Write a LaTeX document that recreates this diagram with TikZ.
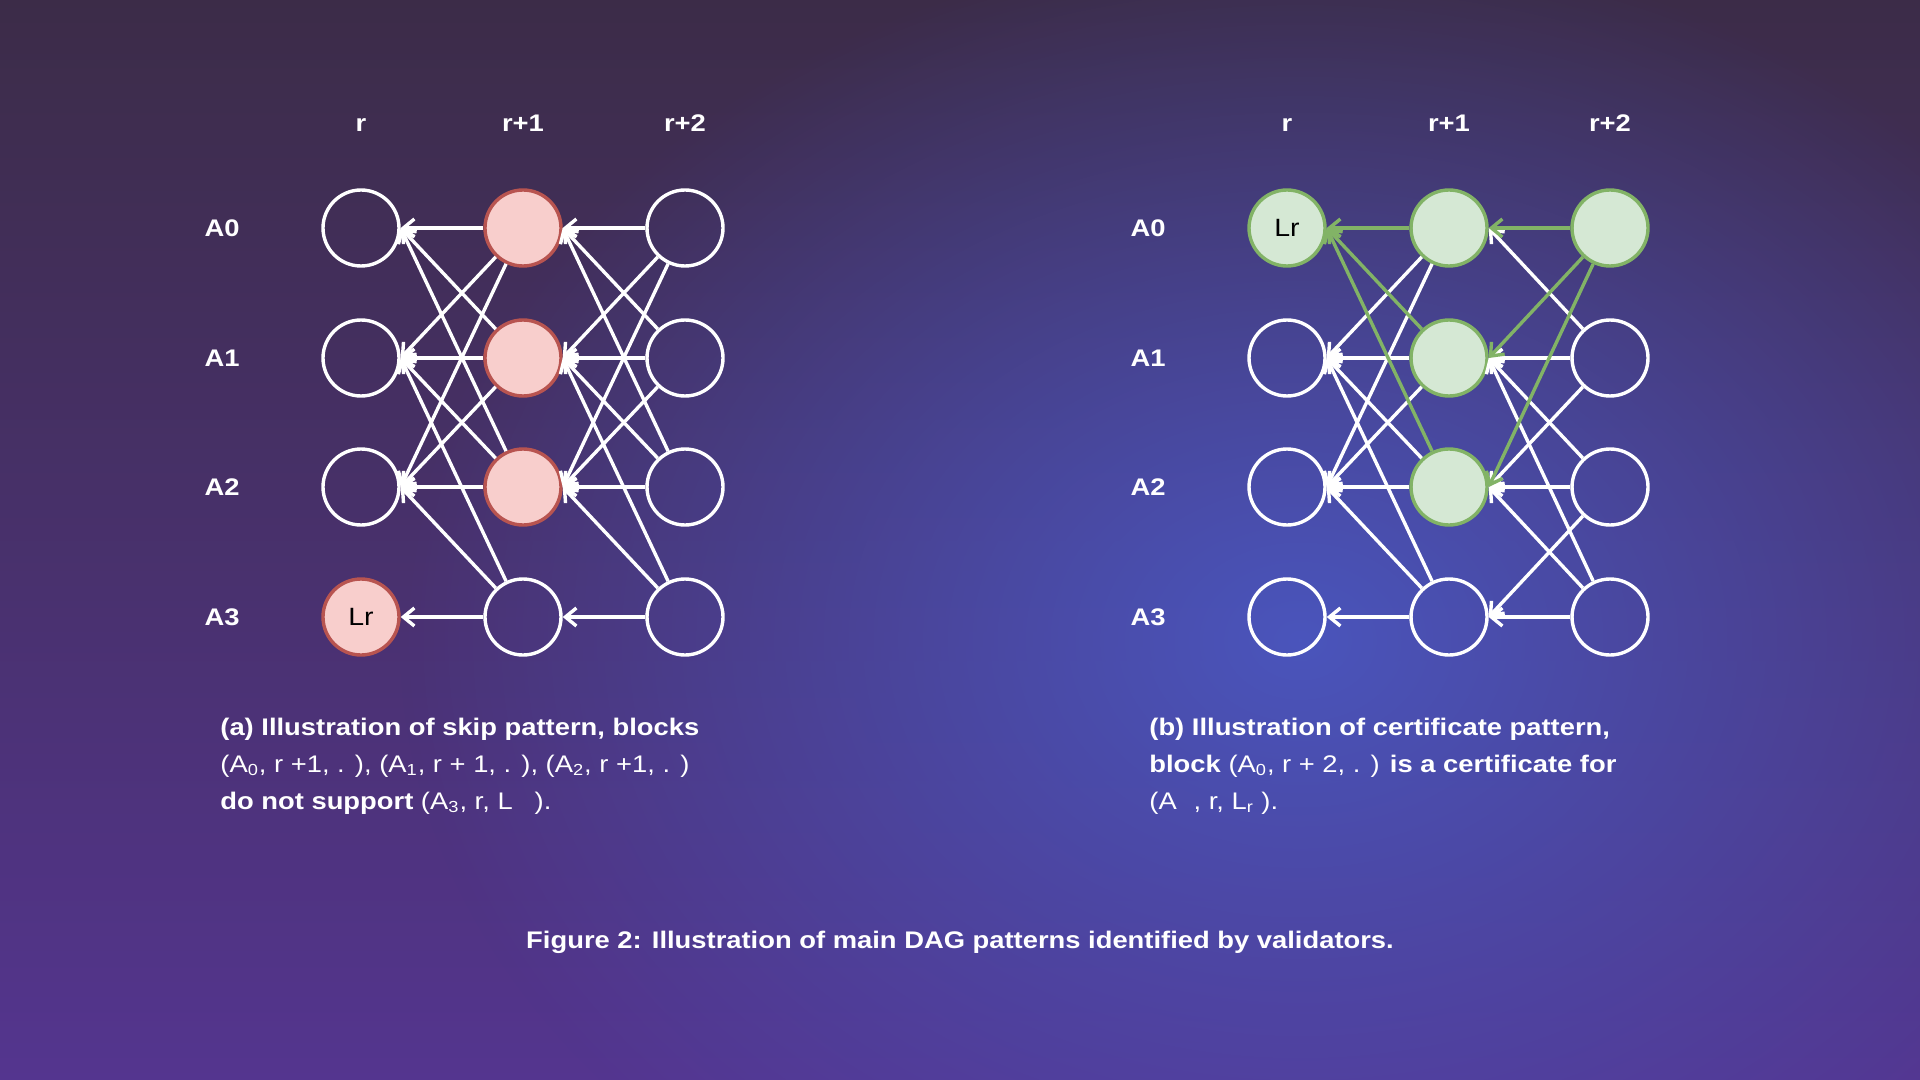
\documentclass[tikz,border=0pt]{standalone}
\usepackage{fontspec}
\setmainfont{Liberation Sans}[FakeStretch=1.14]
\usetikzlibrary{arrows.meta,fadings}
\definecolor{bgtop}{HTML}{3C2C48}
\definecolor{bgbot}{HTML}{54358F}
\definecolor{glow}{HTML}{4A55BC}
\definecolor{pinkfill}{HTML}{F8CECC}
\definecolor{pinkline}{HTML}{B85450}
\definecolor{greenfill}{HTML}{D5E8D4}
\definecolor{greenline}{HTML}{82B366}
\tikzfading[name=glowfade, inner color=transparent!0, outer color=transparent!100]
\tikzset{
  blk/.style={circle, draw=white, line width=1.7pt, minimum size=38pt, inner sep=0pt, font=\fontsize{12.5}{14}\selectfont, text=black},
  skipblk/.style={blk, draw=pinkline, fill=pinkfill},
  certblk/.style={blk, draw=greenline, fill=greenfill},
  conn/.style={draw=white, line width=1.7pt, -{Straight Barb[length=5.5pt,width=9pt]}},
  cconn/.style={conn, draw=greenline},
  lbl/.style={text=white, font=\bfseries\fontsize{12}{14}\selectfont, anchor=base, inner sep=0pt},
  captxt/.style={text=white, font=\fontsize{12}{14}\selectfont, anchor=base west, inner sep=0pt},
}
\begin{document}
\begin{tikzpicture}[x=0.5pt, y=-0.5pt]
\useasboundingbox (0,0) rectangle (1920,1080);
\shade[top color=bgtop, bottom color=bgbot] (0,0) rectangle (1920,1080);
\fill[glow, path fading=glowfade] (1300,640) ellipse [x radius=900, y radius=700];

% ---------- left diagram (skip pattern) ----------
\node[blk] (L00) at (361,228) {};
\node[blk] (L01) at (361,358) {};
\node[blk] (L02) at (361,487) {};
\node[skipblk] (L03) at (361,617) {Lr};
\node[skipblk] (L10) at (523,228) {};
\node[skipblk] (L11) at (523,358) {};
\node[skipblk] (L12) at (523,487) {};
\node[blk] (L13) at (523,617) {};
\node[blk] (L20) at (685,228) {};
\node[blk] (L21) at (685,358) {};
\node[blk] (L22) at (685,487) {};
\node[blk] (L23) at (685,617) {};

\foreach \s in {0,1,2} \foreach \t in {0,1,2} {
  \draw[conn] (L1\s) -- (L0\t.east);
  \draw[conn] (L2\s) -- (L1\t.east);
}
\foreach \t in {1,2,3} {
  \draw[conn] (L13) -- (L0\t.east);
  \draw[conn] (L23) -- (L1\t.east);
}

\node[lbl] (lc0) at (361,132) {r};
\node[lbl] (lc1) at (523,132) {r+1};
\node[lbl] (lc2) at (685,132) {r+2};
\node[lbl] (lr0) at (222,236.5) {A0};
\node[lbl] (lr1) at (222,366.5) {A1};
\node[lbl] (lr2) at (222,495.5) {A2};
\node[lbl] (lr3) at (222,625.5) {A3};

% ---------- right diagram (certificate pattern) ----------
\node[certblk] (R00) at (1287,228) {Lr};
\node[blk] (R01) at (1287,358) {};
\node[blk] (R02) at (1287,487) {};
\node[blk] (R03) at (1287,617) {};
\node[certblk] (R10) at (1449,228) {};
\node[certblk] (R11) at (1449,358) {};
\node[certblk] (R12) at (1449,487) {};
\node[blk] (R13) at (1449,617) {};
\node[certblk] (R20) at (1610,228) {};
\node[blk] (R21) at (1610,358) {};
\node[blk] (R22) at (1610,487) {};
\node[blk] (R23) at (1610,617) {};

\foreach \s in {0,1,2} \foreach \t in {1,2} \draw[conn] (R1\s) -- (R0\t.east);
\foreach \t in {1,2,3} \draw[conn] (R13) -- (R0\t.east);
\foreach \t in {0,1,2} \draw[conn] (R21) -- (R1\t.east);
\foreach \t in {1,2,3} {
  \draw[conn] (R22) -- (R1\t.east);
  \draw[conn] (R23) -- (R1\t.east);
}
\foreach \s in {0,1,2} \draw[cconn] (R1\s) -- (R00.east);
\foreach \t in {0,1,2} \draw[cconn] (R20) -- (R1\t.east);

\node[lbl] (rc0) at (1287,132) {r};
\node[lbl] (rc1) at (1449,132) {r+1};
\node[lbl] (rc2) at (1610,132) {r+2};
\node[lbl] (rr0) at (1148,236.5) {A0};
\node[lbl] (rr1) at (1148,366.5) {A1};
\node[lbl] (rr2) at (1148,495.5) {A2};
\node[lbl] (rr3) at (1148,625.5) {A3};

% ---------- captions ----------
\node[captxt] (ca1) at (220,735) {\bfseries (a) Illustration of skip pattern, blocks};
\node[captxt] (ca2) at (220,772) {(A\textsubscript{0}, r +1, . ), (A\textsubscript{1}, r + 1, . ), (A\textsubscript{2}, r +1, . )};
\node[captxt] (ca3) at (220,809) {\textbf{do not support} (A\textsubscript{3}, r, L\hspace{0.6em} ).};

\node[captxt] (cb1) at (1149,735) {\bfseries (b) Illustration of certificate pattern,};
\node[captxt] (cb2) at (1149,772) {\textbf{block} (A\textsubscript{0}, r + 2, . ) \textbf{is a certificate for}};
\node[captxt] (cb3) at (1149,809) {(A\hspace{0.7em}, r, L\textsubscript{r} ).};

\node[captxt, anchor=base] (fig) at (960,948) {\bfseries Figure 2: Illustration of main DAG patterns identified by validators.};
\end{tikzpicture}
\end{document}
